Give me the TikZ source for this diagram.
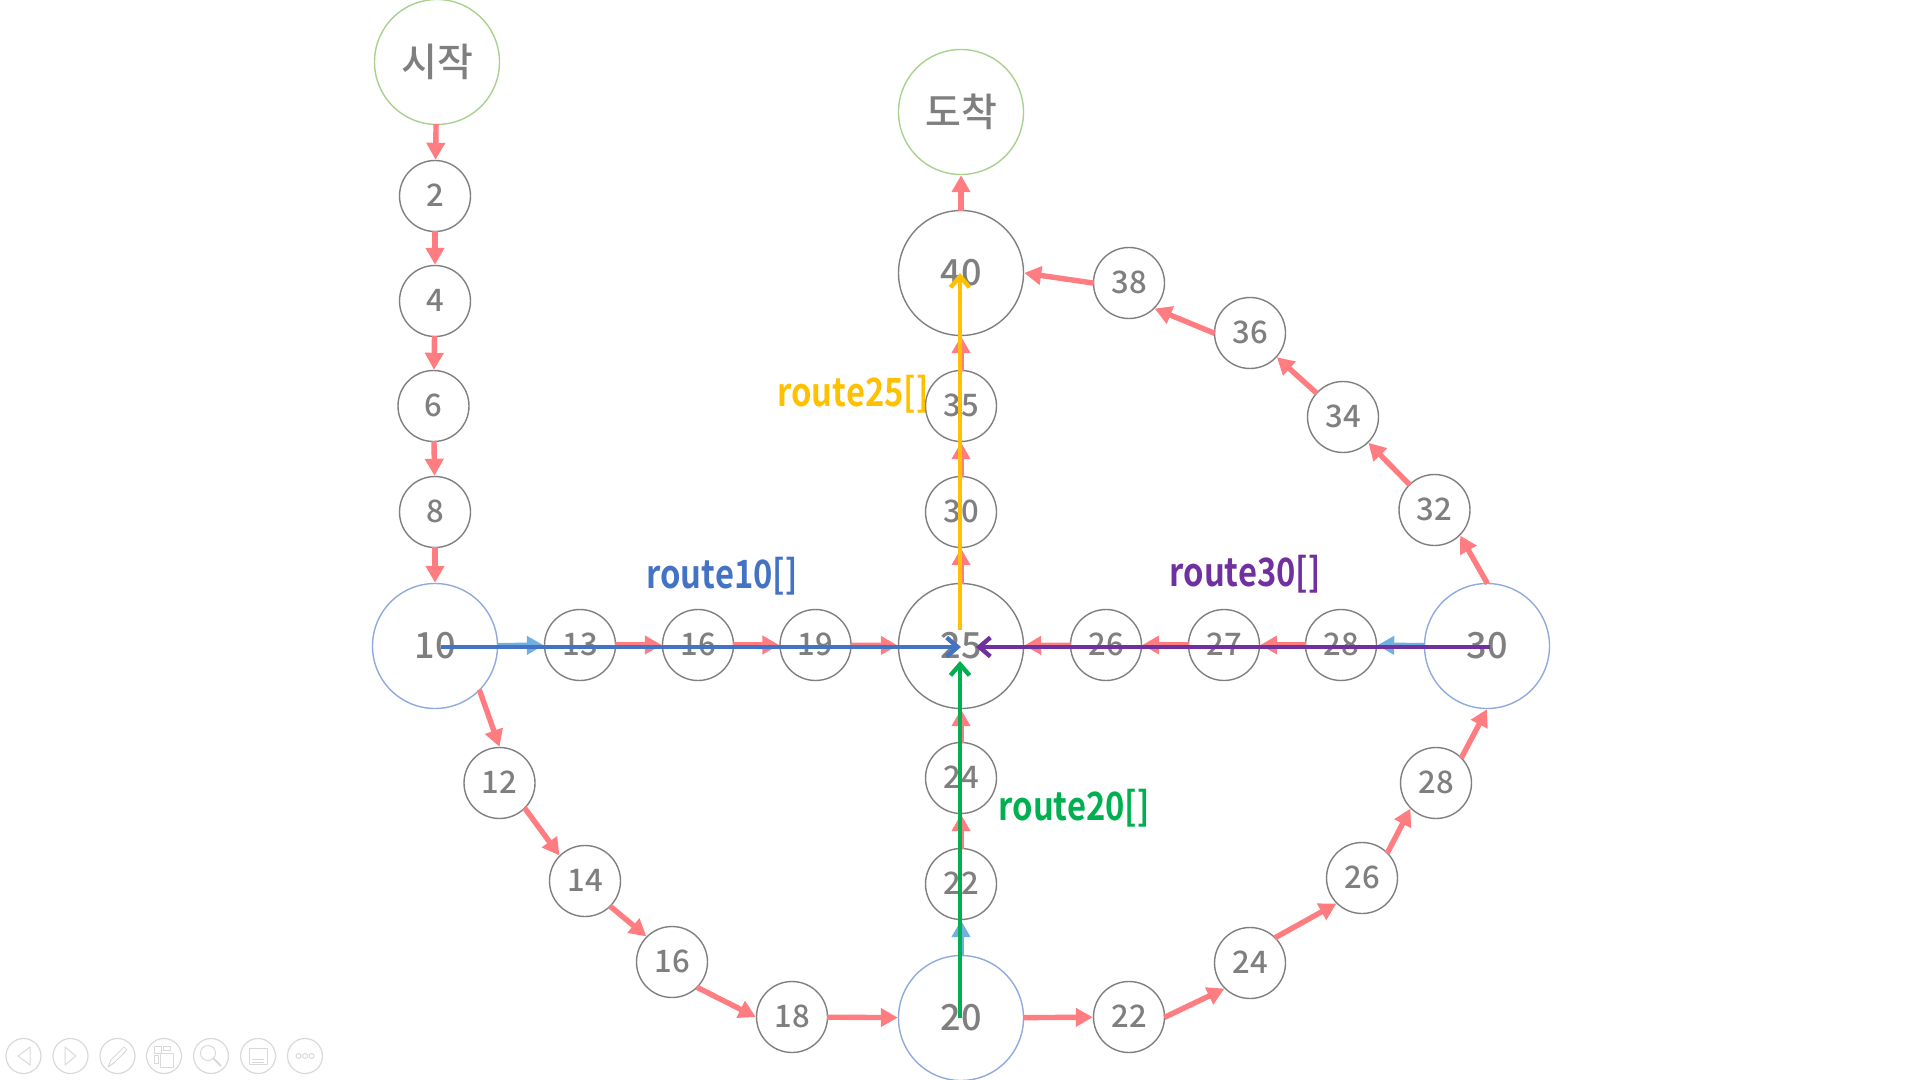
\documentclass[tikz,border=0pt]{standalone}
\usepackage{fontspec}
\setmainfont{Noto Sans CJK KR}
\newfontfamily\numfont{Noto Sans CJK KR Medium}
\newfontfamily\routefont[FakeStretch=0.84]{Noto Sans CJK KR Bold}
\usetikzlibrary{arrows.meta}
\definecolor{stopedge}{HTML}{7F7F7F}
\definecolor{linkred}{HTML}{FF7C80}
\definecolor{linkblue}{HTML}{6FB0E0}
\definecolor{huborder}{HTML}{8FAADC}
\definecolor{endorder}{HTML}{A9D18E}
\definecolor{routeten}{HTML}{4472C4}
\definecolor{routetwenty}{HTML}{00B050}
\definecolor{routequarter}{HTML}{FFC000}
\definecolor{routethirty}{HTML}{7030A0}
\definecolor{toolgrey}{HTML}{D9D9D9}

\begin{document}
\begin{tikzpicture}[
  x=0.5pt,
  y=-0.5pt,
  line join=round,
  stopnode/.style={circle,draw=stopedge,line width=0.7pt,minimum size=35.5pt,inner sep=0pt,
    text=stopedge,text depth=1pt,font=\numfont\fontsize{15.5}{15.5}\selectfont},
  bignode/.style={stopnode,minimum size=62.5pt,font=\numfont\fontsize{18}{18}\selectfont},
  hubnode/.style={bignode,draw=huborder},
  endnode/.style={bignode,draw=endorder,text depth={},font=\numfont\fontsize{19.5}{19.5}\selectfont},
  link/.style={draw=linkred,line width=2.7pt,-{Triangle[length=8.5pt,width=9pt]},shorten <=-0.5pt},
  hublink/.style={link,draw=linkblue},
  route/.style={line width=2.4pt,-{Straight Barb[length=5.5pt,width=9.5pt,line width=2.2pt]}},
  routelabel/.style={font=\routefont\fontsize{19.5}{19.5}\selectfont,inner sep=0pt},
  toolring/.style={draw=toolgrey,line width=0.6pt},
  toolmark/.style={draw=toolgrey,line width=0.5pt}
]
  \useasboundingbox (0,-1) rectangle (1920,1079);

  % Start and finish.
  \node[endnode] (start) at (437,61) {시작};
  \node[endnode] (finish) at (961,111) {도착};

  % Hubs and the large stops.
  \node[hubnode] (hubten) at (435,645) {10};
  \node[hubnode] (hubtwenty) at (961,1017) {20};
  \node[hubnode] (hubthirty) at (1487,645) {30};
  \node[bignode] (mid) at (961,645) {25};
  \node[bignode] (top) at (961,272) {40};

  % Ordinary stops: name/x/y/label.
  \foreach \n/\x/\y/\t in {
    a2/435/195/2, a4/435/300/4, a6/433.5/405/6, a8/435/511/8,
    b13/580/644/13, b16/698/644/16, b19/815.5/644/19,
    c12/499.5/782/12, c14/585/880/14, c16/672/961/16, c18/792/1016/18,
    d22/961/883/22, d24/961/777/24,
    e22/1129/1016/22, e24/1250/962/24, e26/1362/877/26, e28/1436/782/28,
    f26/1106/644/26, f27/1224/644/27, f28/1341/644/28,
    g30/961/511/30, g35/961/405/35,
    h32/1434.5/509/32, h34/1343/416/34, h36/1250/332/36, h38/1129/282/38} {
    \node[stopnode] (\n) at (\x,\y) {\t};
  }

  % Red links between stops, anchors picked to leave each circle as drawn.
  \foreach \p/\q in {start/a2,a2/a4,a4/a6,a6/a8,a8/hubten,
    b13/b16,b16/b19,b19/mid,
    c18/hubtwenty,
    d22/d24,d24/mid,mid/g30,g30/g35,g35/top,top/finish,
    hubtwenty/e22,
    f28/f27,f27/f26,f26/mid,
    h32/h34,h34/h36} {
    \draw[link] (\p) -- (\q);
  }
  \foreach \p/\q in {hubten.-45/c12.north,c12.-45/c14.135,c14.-45/c16.135,c16.-45/c18.west,
    e22.east/e24.225,e24.45/e26.225,e26.45/e28.225,e28.45/hubthirty.south,
    hubthirty.north/h32.-45,h36.west/h38.-45,h38.west/top.east} {
    \draw[link] (\p) -- (\q);
  }

  % Links that leave a hub towards the middle.
  \draw[hublink] (hubten) -- (b13);
  \draw[hublink] (hubtwenty) -- (d22);
  \draw[hublink] (hubthirty) -- (f28);

  % Route arrows run over everything else.
  \coordinate (tenfrom) at (441,646);
  \coordinate (tento) at (961,646);
  \coordinate (twentyfrom) at (960,1017);
  \coordinate (twentyto) at (960,660);
  \coordinate (quarterfrom) at (960,629);
  \coordinate (quarterto) at (960,272);
  \coordinate (thirtyfrom) at (1490,646);
  \coordinate (thirtyto) at (976,646);
  \draw[route,routeten] (tenfrom) -- (tento);
  \draw[route,routetwenty] (twentyfrom) -- (twentyto);
  \draw[route,routequarter] (quarterfrom) -- (quarterto);
  \draw[route,routethirty] (thirtyfrom) -- (thirtyto);

  \node[routelabel,text=routeten] (labelten) at (722,575) {route10[]};
  \node[routelabel,text=routetwenty] (labeltwenty) at (1074,807) {route20[]};
  \node[routelabel,text=routequarter] (labelquarter) at (853,393) {route25[]};
  \node[routelabel,text=routethirty] (labelthirty) at (1245,573) {route30[]};

  % Slide-show buttons in the corner.
  \foreach \x in {23.5,70.5,117.5,164,211,258,305} {
    \draw[toolring] (\x,1055) circle[radius=17.5];
  }
  \draw[toolmark] (30,1046) -- (18,1055) -- (30,1064) -- cycle;
  \draw[toolmark] (65,1046) -- (76,1055) -- (65,1064) -- cycle;
  \draw[toolmark] (108,1066) -- (111,1059) -- (124,1046) -- (127,1049) -- (114,1062) -- cycle;
  \draw[toolmark] (154,1045) rectangle (161,1052);
  \draw[toolmark] (154,1054) rectangle (158,1062);
  \draw[toolmark] (163,1045) rectangle (170,1049);
  \draw[toolmark] (160,1052) rectangle (173,1066);
  \draw[toolmark] (208,1052) circle[radius=7.5];
  \draw[toolmark,line width=1pt] (213.5,1057.5) -- (221,1065);
  \draw[toolmark] (249,1047) rectangle (267,1063);
  \draw[toolmark] (252,1058) -- (264,1058);
  \draw[toolmark] (252,1061) -- (264,1061);
  \foreach \x in {298.5,305,311.5} {
    \draw[toolmark] (\x,1055) circle[radius=2.5];
  }
\end{tikzpicture}
\end{document}
